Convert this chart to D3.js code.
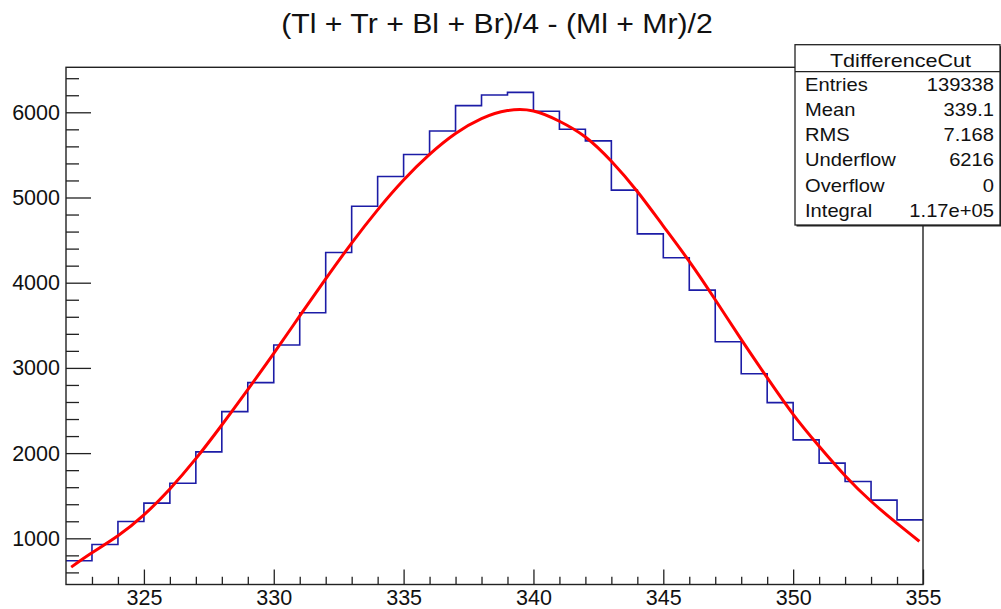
<!DOCTYPE html>
<html lang="en">
<head>
    <meta charset="UTF-8">
    <title>TdifferenceCut</title>
    <script src="https://d3js.org/d3.v7.min.js"></script>
    <style>
        body {
            margin: 0;
            background: #fff;
            font-family: "Liberation Sans", Helvetica, Arial, sans-serif;
        }
        .axis path { display: none; }
        .axis line { stroke: #222; stroke-width: 1.3px; }
        .axis text { font-size: 21.5px; fill: #111; font-family: "Liberation Sans", Helvetica, Arial, sans-serif; }
        .stats text { font-size: 18px; fill: #111; }
    </style>
</head>
<body>
<div id="chart"></div>
<script>
    // histogram bins: lower edges and contents
    const binEdges = d3.range(322, 356);   // 322 ... 355
    const binCounts = [736, 927, 1197, 1413, 1647, 2014, 2487, 2827, 3268, 3647,
                       4355, 4898, 5246, 5504, 5781, 6078, 6203, 6234, 6012, 5801,
                       5664, 5086, 4573, 4292, 3913, 3307, 2932, 2592, 2155, 1882,
                       1666, 1448, 1217];

    // gaussian fit curve
    const fitX = [322.2, 323, 324, 325, 326, 327, 328, 329, 330, 331, 332, 333, 334, 335, 336, 337,
                  338, 339, 340, 341, 342, 343, 344, 345, 346, 347, 348, 349, 350, 351, 352, 353, 354, 354.86];
    const fitY = [662, 830, 1029, 1275, 1580, 1935, 2330, 2745, 3170, 3610, 4045, 4465, 4855, 5205, 5505, 5750,
                  5925, 6020, 6015, 5895, 5710, 5425, 5070, 4665, 4250, 3800, 3335, 2885, 2455, 2080, 1735, 1435, 1175, 965];

    const xMajor = [325, 330, 335, 340, 345, 350, 355];
    const yMajor = [1000, 2000, 3000, 4000, 5000, 6000];

    const statLabels = ["Entries", "Mean", "RMS", "Underflow", "Overflow", "Integral"];
    const statValues = ["139338", "339.1", "7.168", "6216", "0", "1.17e+05"];

    const W = 1001, H = 609;
    const frame = {left: 66, right: 923, top: 67.3, bottom: 584.5};

    const svg = d3.select("#chart").append("svg")
        .attr("width", W)
        .attr("height", H);

    const x = d3.scaleLinear().domain([322, 355]).range([frame.left, frame.right]);
    const y = d3.scaleLinear().domain([458, 6528]).range([frame.bottom, frame.top]);

    // title
    svg.append("text")
        .attr("transform", "translate(497,32.5) scale(1.12,1)")
        .attr("text-anchor", "middle")
        .attr("font-size", "27px")
        .attr("fill", "#111")
        .text("(Tl + Tr + Bl + Br)/4 - (Ml + Mr)/2");

    // histogram outline
    const histPts = binCounts.map((c, i) => [binEdges[i], c]);
    histPts.push([binEdges[binEdges.length - 1], binCounts[binCounts.length - 1]]);
    const step = d3.line()
        .x(d => x(d[0]))
        .y(d => y(d[1]))
        .curve(d3.curveStepAfter);
    svg.append("path")
        .datum(histPts)
        .attr("d", step)
        .attr("fill", "none")
        .attr("stroke", "#1c1ca6")
        .attr("stroke-width", 1.6);

    // fit
    const fitLine = d3.line()
        .x((d, i) => x(fitX[i]))
        .y(d => y(d))
        .curve(d3.curveNatural);
    svg.append("path")
        .datum(fitY)
        .attr("d", fitLine)
        .attr("fill", "none")
        .attr("stroke", "#ff0000")
        .attr("stroke-width", 3);

    // axes, ticks point inward
    const yMinor = d3.range(600, 6501, 200).filter(v => v % 1000 !== 0);
    svg.append("g")
        .attr("class", "axis")
        .attr("transform", `translate(${frame.left},0)`)
        .call(d3.axisLeft(y).tickValues(yMinor).tickSize(-13).tickSizeOuter(0).tickFormat(""));
    svg.append("g")
        .attr("class", "axis")
        .attr("transform", `translate(${frame.left},0)`)
        .call(d3.axisLeft(y).tickValues(yMajor).tickSize(-25).tickSizeOuter(0).tickPadding(6).tickFormat(d3.format("d")));

    const xMinor = d3.range(323, 355, 1).filter(v => v % 5 !== 0);
    svg.append("g")
        .attr("class", "axis")
        .attr("transform", `translate(0,${frame.bottom})`)
        .call(d3.axisBottom(x).tickValues(xMinor).tickSize(-7.7).tickSizeOuter(0).tickFormat(""));
    svg.append("g")
        .attr("class", "axis")
        .attr("transform", `translate(0,${frame.bottom})`)
        .call(d3.axisBottom(x).tickValues(xMajor).tickSize(-15).tickSizeOuter(0).tickPadding(5).tickFormat(d3.format("d")));

    // frame
    svg.append("rect")
        .attr("x", frame.left)
        .attr("y", frame.top)
        .attr("width", frame.right - frame.left)
        .attr("height", frame.bottom - frame.top)
        .attr("fill", "none")
        .attr("stroke", "#222")
        .attr("stroke-width", 1.4);

    // stats box
    const box = {left: 795, top: 44.7, right: 1000, bottom: 225, sep: 71.7};
    const stats = svg.append("g").attr("class", "stats");
    stats.append("rect")
        .attr("x", box.left + 1.5).attr("y", box.top + 1.5)
        .attr("width", box.right - box.left).attr("height", box.bottom - box.top)
        .attr("fill", "#222");
    stats.append("rect")
        .attr("x", box.left).attr("y", box.top)
        .attr("width", box.right - box.left).attr("height", box.bottom - box.top)
        .attr("fill", "#fff")
        .attr("stroke", "#222")
        .attr("stroke-width", 1.3);
    stats.append("line")
        .attr("x1", box.left).attr("x2", box.right)
        .attr("y1", box.sep).attr("y2", box.sep)
        .attr("stroke", "#222")
        .attr("stroke-width", 1.3);
    stats.append("text")
        .attr("transform", `translate(${(box.left + box.right) / 2 + 3},66.7) scale(1.2,1)`)
        .attr("text-anchor", "middle")
        .text("TdifferenceCut");

    const rowY = d3.scaleLinear().domain([0, 5]).range([90.7, 216.7]);
    statLabels.forEach((lab, i) => {
        stats.append("text")
            .attr("transform", `translate(805,${rowY(i)}) scale(1.12,1)`)
            .text(lab);
        stats.append("text")
            .attr("transform", `translate(994,${rowY(i)}) scale(1.12,1)`)
            .attr("text-anchor", "end")
            .text(statValues[i]);
    });
</script>
</body>
</html>
